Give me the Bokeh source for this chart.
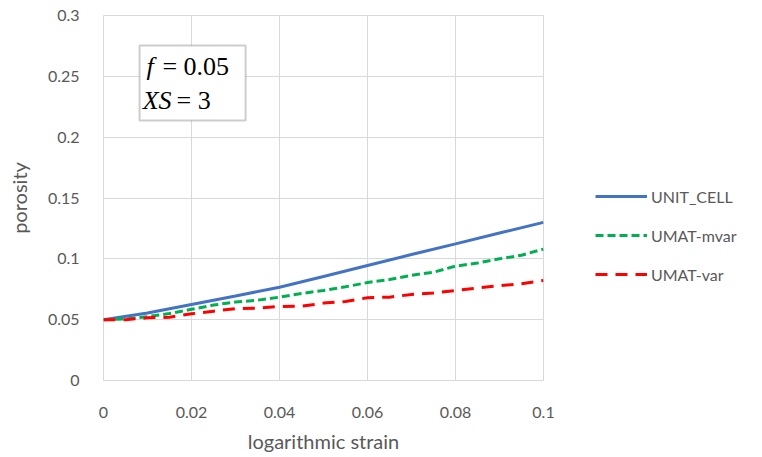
from bokeh.plotting import figure
from bokeh.models import Legend, LegendItem, BoxAnnotation, Label, FixedTicker, Range1d
from bokeh.embed import file_html
from bokeh.resources import INLINE

# data
strain = [0.0, 0.01, 0.02, 0.03, 0.04, 0.05, 0.06, 0.07, 0.08, 0.09, 0.10]
unit_cell = [0.050, 0.0555, 0.0625, 0.0695, 0.0767, 0.0855, 0.0945, 0.1035, 0.1123, 0.1212, 0.130]
strain_m = [0.0, 0.005, 0.01, 0.015, 0.02, 0.025, 0.03, 0.035, 0.04, 0.045, 0.05, 0.055,
            0.06, 0.065, 0.07, 0.075, 0.08, 0.085, 0.09, 0.095, 0.10]
umat_mvar = [0.050, 0.0505, 0.0525, 0.055, 0.0585, 0.062, 0.0645, 0.066, 0.0685, 0.0715, 0.074, 0.077,
             0.0805, 0.083, 0.0865, 0.089, 0.094, 0.0965, 0.100, 0.103, 0.108]
umat_var = [0.050, 0.050, 0.0515, 0.052, 0.0548, 0.057, 0.059, 0.0595, 0.0608, 0.061, 0.0636, 0.065,
            0.068, 0.0685, 0.0707, 0.072, 0.074, 0.076, 0.078, 0.0795, 0.0822]
x_ticks = [0, 0.02, 0.04, 0.06, 0.08, 0.1]
x_labels = ["0", "0.02", "0.04", "0.06", "0.08", "0.1"]
y_ticks = [0, 0.05, 0.1, 0.15, 0.2, 0.25, 0.3]
y_labels = ["0", "0.05", "0.1", "0.15", "0.2", "0.25", "0.3"]

font = "Lato"
grey = "#595959"

p = figure(frame_width=440, frame_height=365, output_backend="svg", toolbar_location=None,
           x_range=Range1d(0, 0.1), y_range=Range1d(0, 0.3),
           min_border_left=103, min_border_right=0, min_border_top=15, min_border_bottom=77)
p.outline_line_color = "#d9d9d9"
p.background_fill_color = "white"
p.border_fill_color = "white"

for ax, ticks, labels in ((p.xaxis[0], x_ticks, x_labels), (p.yaxis[0], y_ticks, y_labels)):
    ax.ticker = FixedTicker(ticks=ticks)
    ax.major_label_overrides = {t: l for t, l in zip(ticks, labels)}
    ax.axis_line_color = None
    ax.major_tick_line_color = None
    ax.minor_tick_line_color = None
    ax.major_label_text_font = font
    ax.major_label_text_font_size = "16px"
    ax.major_label_text_color = grey
    ax.axis_label_text_font = font
    ax.axis_label_text_font_size = "20px"
    ax.axis_label_text_color = grey
    ax.axis_label_text_font_style = "normal"

p.xaxis.axis_label = "logarithmic strain"
p.yaxis.axis_label = "porosity"
p.xaxis.major_label_standoff = 20
p.yaxis.major_label_standoff = 18
p.xaxis.axis_label_standoff = 8
p.yaxis.axis_label_standoff = 14

p.grid.grid_line_color = "#d9d9d9"
p.grid.grid_line_width = 1

r1 = p.line(strain, unit_cell, line_color="#4472C4", line_width=3)
r2 = p.line(strain_m, umat_mvar, line_color="#00B050", line_width=3, line_dash="8 4")
r3 = p.line(strain_m, umat_var, line_color="#FF0000", line_width=3, line_dash="12 8")

legend = Legend(items=[LegendItem(label="UNIT_CELL", renderers=[r1]),
                       LegendItem(label="UMAT-mvar", renderers=[r2]),
                       LegendItem(label="UMAT-var", renderers=[r3])],
                location=(52, 96), border_line_color=None, background_fill_alpha=0,
                padding=0, margin=0,
                glyph_width=52, label_standoff=4, spacing=19,
                label_text_font=font, label_text_font_size="16px", label_text_color=grey)
p.add_layout(legend, "right")

# annotation box
p.add_layout(BoxAnnotation(left=0.0082, right=0.0323, top=0.2753, bottom=0.2137,
                           fill_color="white", fill_alpha=1, line_color=grey, line_width=2,
                           level="overlay"))
def lab(x, y, t, style):
    p.add_layout(Label(x=x, y=y, text=t, text_font="Liberation Serif", text_font_size="26px",
                       text_font_style=style, text_color="black", text_baseline="middle",
                       level="overlay"))
lab(0.0098, 0.2581, "f", "italic")
lab(0.0134, 0.2581, "= 0.05", "normal")
lab(0.0089, 0.2301, "XS", "italic")
lab(0.0166, 0.2301, "= 3", "normal")

open("out.html", "w").write(file_html(p, INLINE))
